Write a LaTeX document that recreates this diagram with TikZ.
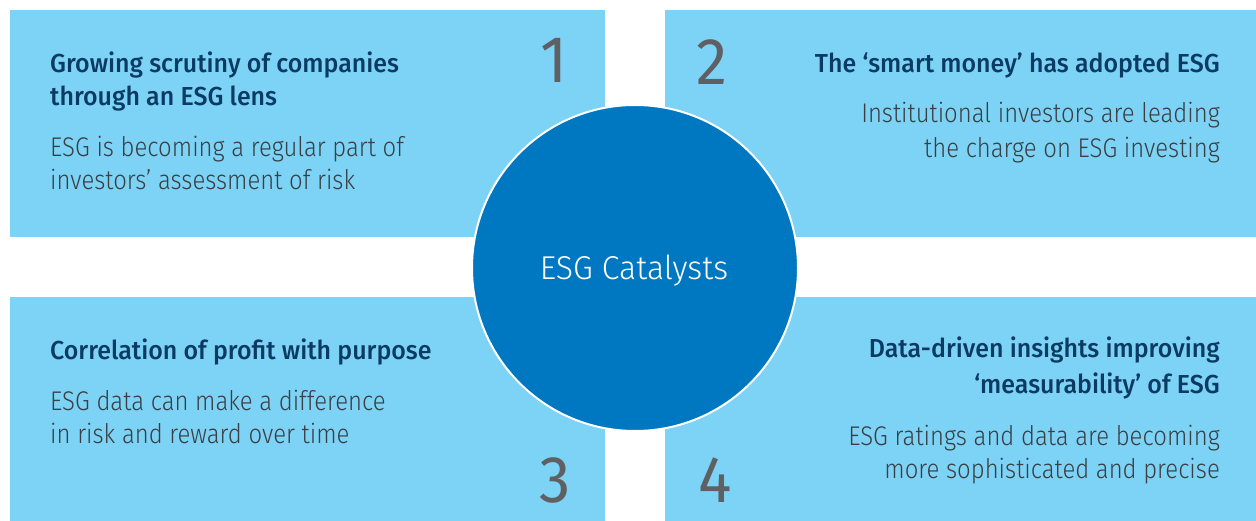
\documentclass[tikz,border=0pt]{standalone}
\usepackage{fontspec}
\setmainfont{Fira Sans}
\newfontfamily\titlefont[FakeStretch=0.96]{Fira Sans Medium}
\newfontfamily\bodyfont[FakeStretch=0.885]{Fira Sans Light}
\newfontfamily\centerfont[FakeStretch=0.97]{Fira Sans Light}
\newfontfamily\numfont[FakeStretch=0.95]{Fira Sans}
\definecolor{boxblue}{HTML}{7DD3F5}
\definecolor{circblue}{HTML}{0077C1}
\definecolor{titlenavy}{HTML}{0B3A63}
\definecolor{bodygray}{HTML}{3A3F44}
\definecolor{numgray}{HTML}{5E6063}
\tikzset{
  panel/.style={fill=boxblue, draw=none},
  ttl/.style={font=\titlefont\fontsize{26bp}{26bp}\selectfont, text=titlenavy, inner sep=0pt},
  bdy/.style={font=\bodyfont\fontsize{27bp}{27bp}\selectfont, text=bodygray, inner sep=0pt},
  num/.style={font=\numfont\fontsize{66bp}{66bp}\selectfont, text=numgray, inner sep=0pt},
}
\begin{document}
\begin{tikzpicture}[x=1bp,y=-1bp]
\useasboundingbox (0,0) rectangle (1256,521);
\fill[white] (0,0) rectangle (1256,521);
\path[panel] (10,10) rectangle (605,237);
\path[panel] (665,10) rectangle (1256,237);
\path[panel] (10,297) rectangle (605,521);
\path[panel] (665,297) rectangle (1256,521);
\node[circle, fill=circblue, draw=white, line width=2bp, minimum size=326bp, inner sep=0pt] (c) at (635,268) {};
\node[anchor=base, font=\centerfont\fontsize{33bp}{33bp}\selectfont, text=white, inner sep=0pt] (ct) at (634,280) {ESG Catalysts};
% box 1
\node[ttl, anchor=base west] (t1a) at (50,73) {Growing scrutiny of companies};
\node[ttl, anchor=base west] (t1b) at (50,106) {through an ESG lens};
\node[bdy, anchor=base west] (b1a) at (50,157) {ESG is becoming a regular part of};
\node[bdy, anchor=base west] (b1b) at (50,190) {investors’ assessment of risk};
\node[num, anchor=base east] (n1) at (568,83) {1};
% box 2
\node[ttl, anchor=base east] (t2a) at (1220,73) {The ‘smart money’ has adopted ESG};
\node[bdy, anchor=base east] (b2a) at (1220,123) {Institutional investors are leading};
\node[bdy, anchor=base east] (b2b) at (1220,158) {the charge on ESG investing};
\node[num, anchor=base west] (n2) at (696,85) {2};
% box 3
\node[ttl, anchor=base west] (t3a) at (50,360) {Correlation of profit with purpose};
\node[bdy, anchor=base west] (b3a) at (50,410) {ESG data can make a difference};
\node[bdy, anchor=base west] (b3b) at (50,443) {in risk and reward over time};
\node[num, anchor=base east] (n3) at (571,502) {3};
% box 4
\node[ttl, anchor=base east] (t4a) at (1220,358) {Data-driven insights improving};
\node[ttl, anchor=base east] (t4b) at (1220,393) {‘measurability’ of ESG};
\node[bdy, anchor=base east] (b4a) at (1220,445) {ESG ratings and data are becoming};
\node[bdy, anchor=base east] (b4b) at (1220,478) {more sophisticated and precise};
\node[num, anchor=base west] (n4) at (698,502) {4};
\end{tikzpicture}
\end{document}
